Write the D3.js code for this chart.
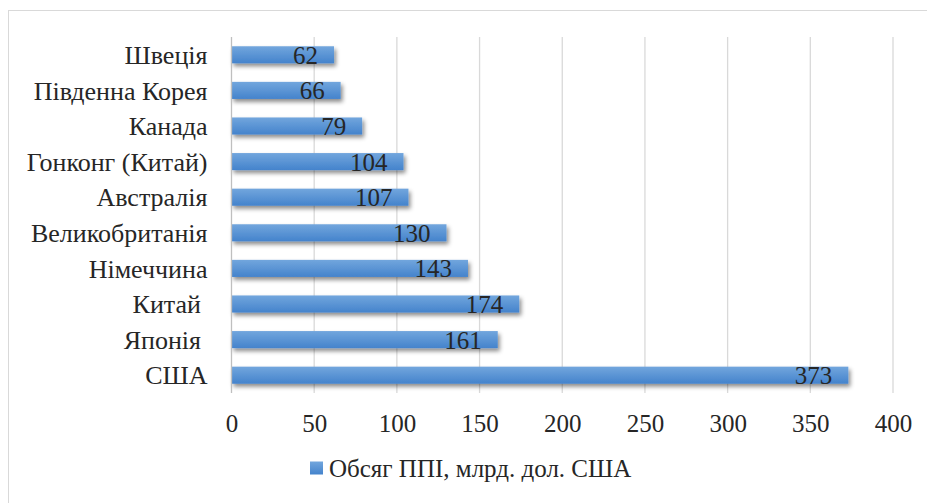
<!DOCTYPE html>
<html>
<head>
<meta charset="utf-8">
<script src="https://cdn.jsdelivr.net/npm/d3@7"></script>
<style>
  body { margin: 0; background: #fff; }
  svg text { font-family: "Times New Roman", "Liberation Serif", Tinos, "DejaVu Serif", serif; fill: #262626; }
</style>
</head>
<body>
<div id="chart"></div>
<script>
// categories top to bottom, values in billion USD
var countries = ["Швеція", "Південна Корея", "Канада", "Гонконг (Китай)", "Австралія",
                 "Великобританія", "Німеччина", "Китай ", "Японія ", "США"];
var fdiValues = [62, 66, 79, 104, 107, 130, 143, 174, 161, 373];
var xTicks = [0, 50, 100, 150, 200, 250, 300, 350, 400];
var legendLabel = "Обсяг ППІ, млрд. дол. США";

var width = 927, height = 503;
var margin = {top: 37, right: 34, bottom: 110, left: 231.5};
var fontSize = "25px";

var svg = d3.select("#chart").append("svg")
    .attr("width", width)
    .attr("height", height);

var defs = svg.append("defs");
var grad = defs.append("linearGradient")
    .attr("id", "barGrad")
    .attr("x1", 0).attr("y1", 0).attr("x2", 0).attr("y2", 1);
grad.append("stop").attr("offset", "0%").attr("stop-color", "#72a6dd");
grad.append("stop").attr("offset", "100%").attr("stop-color", "#4483cc");

var shadow = defs.append("filter")
    .attr("id", "shadow")
    .attr("x", "-5%").attr("y", "-30%").attr("width", "115%").attr("height", "190%");
shadow.append("feDropShadow")
    .attr("dx", 2).attr("dy", 3).attr("stdDeviation", 2)
    .attr("flood-color", "#000").attr("flood-opacity", 0.45);

// outer chart border (cropped at right/bottom)
svg.append("rect")
    .attr("x", 8.5).attr("y", 10.5)
    .attr("width", width + 20).attr("height", height + 20)
    .attr("fill", "none")
    .attr("stroke", "#d9d9d9");

var x = d3.scaleLinear()
    .domain([0, 400])
    .range([margin.left, width - margin.right]);

var y = d3.scaleBand()
    .domain(countries)
    .range([margin.top, height - margin.bottom])
    .paddingInner(0.52)
    .paddingOuter(0.26);

// gridlines
svg.append("g")
    .selectAll("line")
    .data(xTicks.slice(1))
    .enter().append("line")
    .attr("x1", function(d) { return x(d); })
    .attr("x2", function(d) { return x(d); })
    .attr("y1", margin.top)
    .attr("y2", height - margin.bottom)
    .attr("stroke", "#d9d9d9")
    .attr("stroke-width", 1.3);

// x axis ticks (labels only)
var xAxis = svg.append("g")
    .attr("transform", "translate(0," + (height - margin.bottom) + ")")
    .call(d3.axisBottom(x).tickValues(xTicks).tickSize(0).tickPadding(21));
xAxis.attr("font-family", null).attr("font-size", null);
xAxis.select(".domain").remove();
xAxis.selectAll("text")
    .style("font-size", fontSize)
    .attr("fill", "#262626");

// bars
svg.append("g")
    .selectAll("rect")
    .data(fdiValues)
    .enter().append("rect")
    .attr("x", x(0))
    .attr("y", function(d, i) { return y(countries[i]); })
    .attr("width", function(d) { return x(d) - x(0); })
    .attr("height", y.bandwidth())
    .attr("fill", "url(#barGrad)")
    .attr("filter", "url(#shadow)");

// vertical category axis line
svg.append("line")
    .attr("x1", x(0)).attr("x2", x(0))
    .attr("y1", margin.top).attr("y2", height - margin.bottom)
    .attr("stroke", "#bfbfbf")
    .attr("stroke-width", 1.3);

// category labels
svg.append("g")
    .selectAll("text")
    .data(countries)
    .enter().append("text")
    .attr("x", x(0) - 24)
    .attr("y", function(d) { return y(d) + y.bandwidth() / 2; })
    .attr("dy", "0.35em")
    .attr("text-anchor", "end")
    .attr("xml:space", "preserve")
    .style("white-space", "pre")
    .style("font-size", "26px")
    .text(function(d) { return d; });

// value labels (inside end)
svg.append("g")
    .selectAll("text")
    .data(fdiValues)
    .enter().append("text")
    .attr("x", function(d) { return x(d) - 16; })
    .attr("y", function(d, i) { return y(countries[i]) + y.bandwidth() / 2; })
    .attr("dy", "0.36em")
    .attr("text-anchor", "end")
    .style("font-size", fontSize)
    .text(function(d) { return d; });

// legend
var legend = svg.append("g").attr("transform", "translate(310,468)");
legend.append("rect")
    .attr("x", 0).attr("y", -6.5)
    .attr("width", 13).attr("height", 13)
    .attr("fill", "url(#barGrad)");
legend.append("text")
    .attr("x", 19).attr("y", 0)
    .attr("dy", "0.35em")
    .style("font-size", fontSize)
    .text(legendLabel);
</script>
</body>
</html>
